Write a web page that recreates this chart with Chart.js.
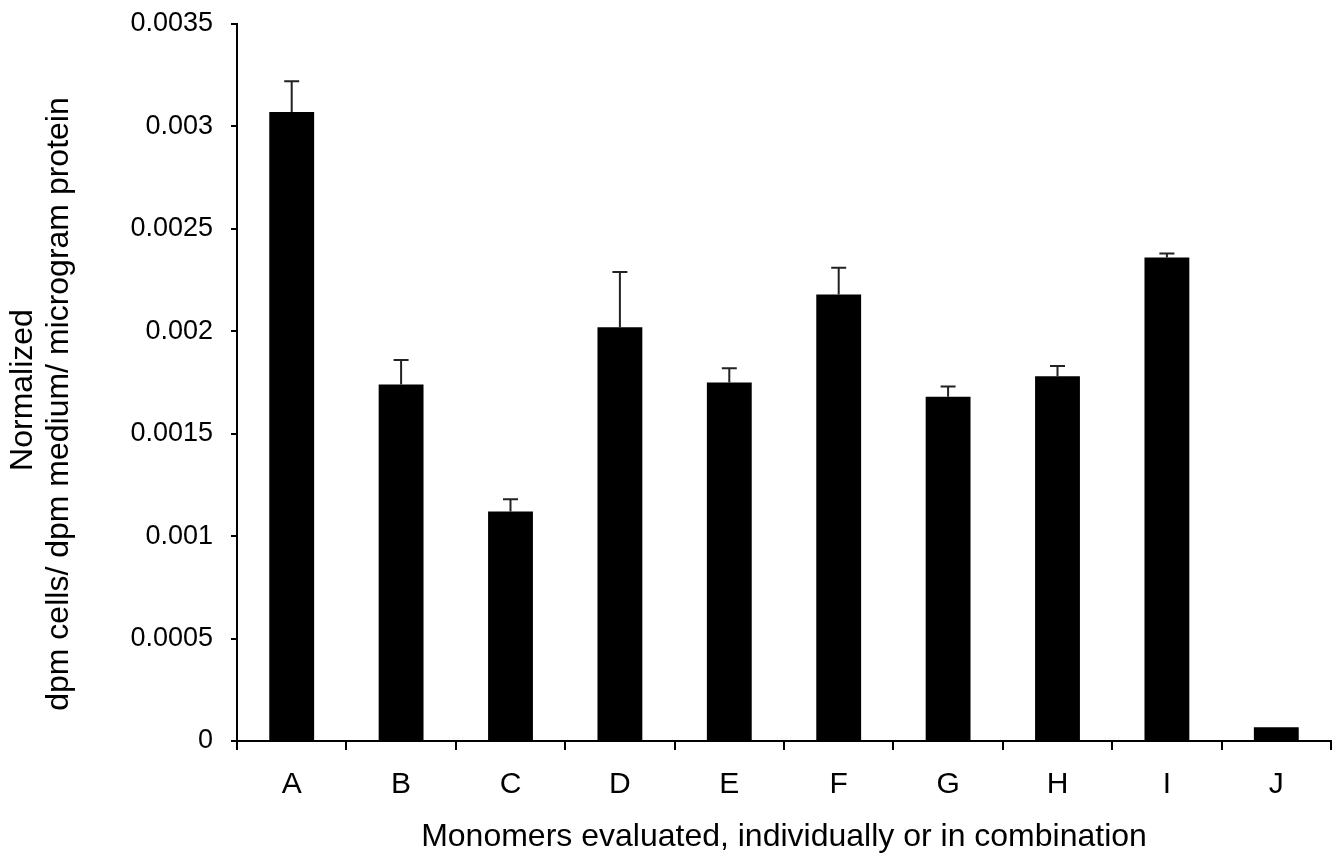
<!DOCTYPE html>
<html>
<head>
<meta charset="utf-8">
<script src="https://cdn.jsdelivr.net/npm/chart.js@4/dist/chart.umd.min.js"></script>
<style>
  body { margin: 0; background: #fff; }
  #wrap { width: 1342px; height: 853px; }
</style>
</head>
<body>
<div id="wrap"><canvas id="barChart" width="1342" height="853"></canvas></div>
<script>
const categories = ["A", "B", "C", "D", "E", "F", "G", "H", "I", "J"];
const means = [0.00307, 0.00174, 0.00112, 0.00202, 0.00175, 0.00218, 0.00168, 0.00178, 0.00236, 0.000067];
const errors = [0.00015, 0.00012, 0.00006, 0.00027, 0.00007, 0.00013, 0.00005, 0.00005, 0.00002, 0];
const yTickLabels = ["0", "0.0005", "0.001", "0.0015", "0.002", "0.0025", "0.003", "0.0035"];
const yTitleLines = ["Normalized", "dpm cells/ dpm medium/ microgram protein"];

const fontFamily = "'Liberation Sans', Arial, sans-serif";

// upper error bars, drawn through the y scale
const errorBars = {
    id: "errorBars",
    afterDatasetsDraw(chart) {
        const ctx = chart.ctx;
        const y = chart.scales.y;
        const meta = chart.getDatasetMeta(0);
        ctx.save();
        ctx.strokeStyle = "#222";
        ctx.lineWidth = 2;
        meta.data.forEach((bar, i) => {
            if (!errors[i]) return;
            const top = y.getPixelForValue(means[i] + errors[i]);
            const base = y.getPixelForValue(means[i]);
            ctx.beginPath();
            ctx.moveTo(bar.x, base);
            ctx.lineTo(bar.x, top);
            ctx.moveTo(bar.x - 7.5, top);
            ctx.lineTo(bar.x + 7.5, top);
            ctx.stroke();
        });
        ctx.restore();
    }
};

// two-line rotated y title (the second line sits a little lower in the original)
const yTitle = {
    id: "yTitle",
    afterDraw(chart) {
        const ctx = chart.ctx;
        ctx.save();
        ctx.fillStyle = "#000";
        ctx.font = "32px " + fontFamily;
        ctx.textAlign = "center";
        ctx.textBaseline = "middle";
        [[23, 390], [59, 404]].forEach((pos, i) => {
            ctx.save();
            ctx.translate(pos[0], pos[1]);
            ctx.rotate(-Math.PI / 2);
            ctx.fillText(yTitleLines[i], 0, 0);
            ctx.restore();
        });
        ctx.restore();
    }
};

let ctx = document.getElementById("barChart").getContext("2d");

let barChart = new Chart(ctx, {
    type: "bar",
    data: {
        labels: categories,
        datasets: [{
            data: means,
            backgroundColor: "#000",
            borderWidth: 0,
            barPercentage: 0.41,
            categoryPercentage: 1
        }]
    },
    options: {
        responsive: false,
        animation: false,
        layout: { padding: { top: 24, right: 11, bottom: 0, left: 0 } },
        plugins: {
            legend: { display: false },
            tooltip: { enabled: false }
        },
        scales: {
            x: {
                grid: { drawOnChartArea: false, color: "#000", lineWidth: 2, tickLength: 9 },
                border: { color: "#000", width: 2 },
                ticks: {
                    color: "#000",
                    padding: 17,
                    font: { family: fontFamily, size: 30 },
                    maxRotation: 0
                },
                title: {
                    display: true,
                    text: "Monomers evaluated, individually or in combination",
                    color: "#000",
                    font: { family: fontFamily, size: 32, lineHeight: 1 },
                    padding: { top: 0, bottom: 0 }
                },
                afterFit(scale) {
                    scale.height = 112;
                    scale.paddingLeft = 0;
                    scale.paddingRight = 0;
                }
            },
            y: {
                min: 0,
                max: 0.0035,
                grid: { drawOnChartArea: false, color: "#000", lineWidth: 2, tickLength: 6 },
                border: { color: "#000", width: 2 },
                ticks: {
                    stepSize: 0.0005,
                    color: "#000",
                    padding: 18,
                    font: { family: fontFamily, size: 27 },
                    callback: (value, index) => yTickLabels[index]
                },
                afterFit(scale) {
                    scale.width = 237;
                    scale.paddingTop = 0;
                    scale.paddingBottom = 0;
                }
            }
        }
    },
    plugins: [errorBars, yTitle]
});
</script>
</body>
</html>
